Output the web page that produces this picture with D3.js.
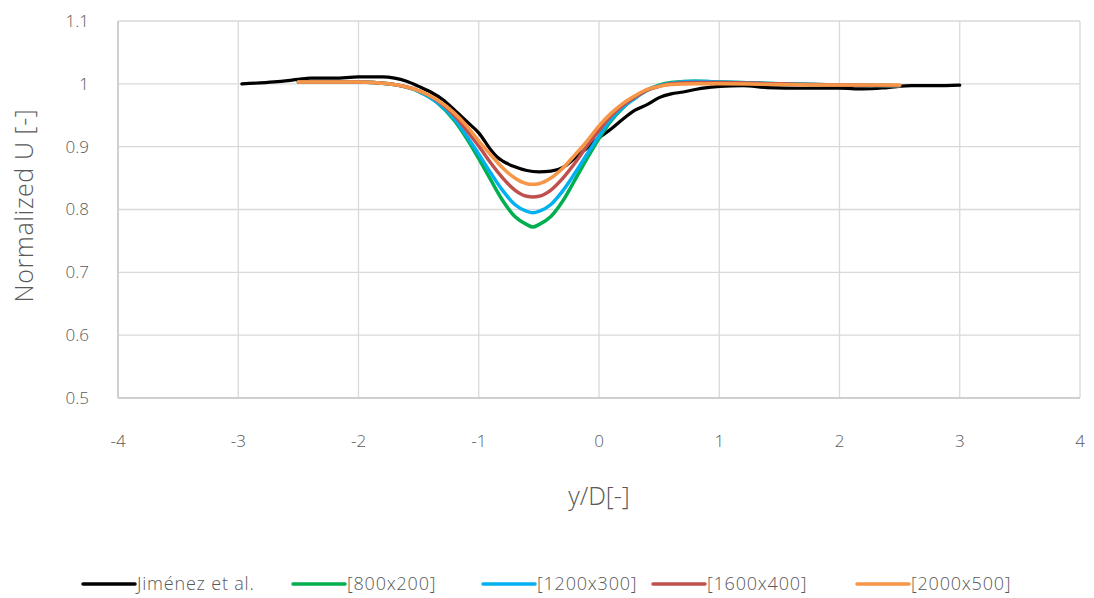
<!DOCTYPE html>
<html>
<head>
<meta charset="utf-8">
<script src="https://cdn.jsdelivr.net/npm/d3@7"></script>
<style>
  body { margin: 0; background: #fff; }
  svg text { font-family: "Open Sans", Roboto, sans-serif; font-weight: 300; fill: #595959; }
</style>
</head>
<body>
<svg id="chart"></svg>
<script>
const width = 1094;
const height = 598;
const margin = { top: 21, right: 14, bottom: 200, left: 118 };

// reference data (Jiménez et al.)
const refX = [-2.97, -2.7, -2.5, -2.4, -2.2, -2.0, -1.8, -1.7, -1.6, -1.5, -1.4, -1.3, -1.2, -1.1, -1.0, -0.9, -0.85, -0.8, -0.7, -0.6, -0.5, -0.4, -0.3, -0.2, -0.1, 0, 0.1, 0.2, 0.3, 0.4, 0.5, 0.6, 0.7, 0.8, 0.9, 1.0, 1.2, 1.4, 1.7, 2.0, 2.2, 2.4, 2.6, 2.8, 3.0];
const refY = [1.000, 1.003, 1.007, 1.009, 1.009, 1.011, 1.011, 1.009, 1.004, 0.996, 0.987, 0.975, 0.958, 0.940, 0.922, 0.895, 0.884, 0.877, 0.868, 0.862, 0.860, 0.861, 0.867, 0.882, 0.898, 0.914, 0.928, 0.944, 0.958, 0.967, 0.978, 0.984, 0.987, 0.991, 0.994, 0.996, 0.997, 0.994, 0.993, 0.993, 0.992, 0.994, 0.997, 0.997, 0.998];

// simulation grids
const simX = [-2.5, -2.0, -1.75, -1.5, -1.35, -1.2, -1.1, -1.0, -0.9, -0.8, -0.7, -0.6, -0.55, -0.5, -0.4, -0.3, -0.2, -0.1, 0, 0.1, 0.2, 0.3, 0.4, 0.5, 0.6, 0.8, 1.0, 1.5, 2.0, 2.5];
const grid800 =  [1.003, 1.003, 1.000, 0.988, 0.971, 0.941, 0.913, 0.881, 0.847, 0.814, 0.789, 0.776, 0.772, 0.776, 0.789, 0.814, 0.847, 0.881, 0.913, 0.941, 0.962, 0.978, 0.990, 0.998, 1.002, 1.004, 1.003, 1.000, 0.998, 0.997];
const grid1200 = [1.003, 1.003, 1.000, 0.988, 0.971, 0.944, 0.917, 0.888, 0.858, 0.830, 0.808, 0.797, 0.795, 0.797, 0.808, 0.830, 0.858, 0.888, 0.917, 0.944, 0.963, 0.977, 0.990, 0.997, 1.001, 1.004, 1.003, 1.000, 0.998, 0.997];
const grid1600 = [1.003, 1.003, 1.000, 0.989, 0.974, 0.949, 0.926, 0.901, 0.874, 0.850, 0.831, 0.821, 0.820, 0.821, 0.831, 0.850, 0.874, 0.901, 0.926, 0.949, 0.966, 0.979, 0.990, 0.996, 1.000, 1.002, 1.002, 1.000, 0.998, 0.997];
const grid2000 = [1.003, 1.003, 1.000, 0.989, 0.975, 0.953, 0.933, 0.909, 0.887, 0.866, 0.850, 0.841, 0.840, 0.841, 0.850, 0.866, 0.887, 0.909, 0.933, 0.953, 0.969, 0.981, 0.991, 0.996, 0.999, 1.000, 1.000, 0.999, 0.998, 0.998];

const seriesNames = ["Jiménez et al.", "[800x200]", "[1200x300]", "[1600x400]", "[2000x500]"];
const seriesColors = ["#000000", "#00b050", "#00b0f0", "#c0504d", "#f79646"];

const xTicks = [-4, -3, -2, -1, 0, 1, 2, 3, 4];
const yTicks = [0.5, 0.6, 0.7, 0.8, 0.9, 1, 1.1];

const series = [
    refX.map((x, i) => [x, refY[i]]),
    simX.map((x, i) => [x, grid800[i]]),
    simX.map((x, i) => [x, grid1200[i]]),
    simX.map((x, i) => [x, grid1600[i]]),
    simX.map((x, i) => [x, grid2000[i]])
];

const svg = d3.select("#chart").attr("width", width).attr("height", height);

const x = d3.scaleLinear().domain([-4, 4]).range([margin.left, 1080]);
const y = d3.scaleLinear().domain([0.5, 1.1]).range([398, margin.top]);

// gridlines
svg.append("g")
    .selectAll("line")
    .data(yTicks)
    .enter().append("line")
    .attr("x1", x(-4)).attr("x2", x(4))
    .attr("y1", d => y(d)).attr("y2", d => y(d))
    .attr("stroke", "#d9d9d9")
    .attr("stroke-width", 1.3);

svg.append("g")
    .selectAll("line")
    .data(xTicks)
    .enter().append("line")
    .attr("x1", d => x(d)).attr("x2", d => x(d))
    .attr("y1", y(1.1)).attr("y2", y(0.5))
    .attr("stroke", "#d9d9d9")
    .attr("stroke-width", 1.3);

// axis lines
svg.append("line")
    .attr("x1", x(-4)).attr("x2", x(-4))
    .attr("y1", y(1.1)).attr("y2", y(0.5))
    .attr("stroke", "#c8c8c8").attr("stroke-width", 1.5);
svg.append("line")
    .attr("x1", x(-4)).attr("x2", x(4))
    .attr("y1", y(0.5)).attr("y2", y(0.5))
    .attr("stroke", "#c8c8c8").attr("stroke-width", 1.5);

// tick labels
svg.append("g")
    .selectAll("text")
    .data(yTicks)
    .enter().append("text")
    .attr("x", 89)
    .attr("y", d => y(d))
    .attr("dy", "0.35em")
    .attr("text-anchor", "end")
    .style("font-size", "17px")
    .text(d => d3.format("")(d));

svg.append("g")
    .selectAll("text")
    .data(xTicks)
    .enter().append("text")
    .attr("x", d => x(d))
    .attr("y", 441)
    .attr("dy", "0.35em")
    .attr("text-anchor", "middle")
    .style("font-size", "17px")
    .text(d => d);

// axis titles
svg.append("text")
    .attr("x", x(0))
    .attr("y", 496)
    .attr("dy", "0.35em")
    .attr("text-anchor", "middle")
    .style("font-size", "25px")
    .text("y/D[-]");

svg.append("text")
    .attr("transform", `translate(24,${y(0.8) - 4}) rotate(-90)`)
    .attr("dy", "0.35em")
    .attr("text-anchor", "middle")
    .style("font-size", "25px")
    .style("letter-spacing", "0.6px")
    .text("Normalized U [-]");

// curves
const line = d3.line()
    .x(d => x(d[0]))
    .y(d => y(d[1]))
    .curve(d3.curveMonotoneX);

svg.append("g")
    .selectAll("path")
    .data(series)
    .enter().append("path")
    .attr("d", line)
    .attr("fill", "none")
    .attr("stroke", (d, i) => seriesColors[i])
    .attr("stroke-width", (d, i) => i === 0 ? 3.2 : 3.5)
    .attr("stroke-linecap", "round")
    .attr("stroke-linejoin", "round");

// legend
const legendX = [83, 293, 483, 653, 857];
const legend = svg.append("g")
    .selectAll("g")
    .data(seriesNames)
    .enter().append("g")
    .attr("transform", (d, i) => `translate(${legendX[i]},584)`);

legend.append("line")
    .attr("x1", 0).attr("x2", 52)
    .attr("y1", 0).attr("y2", 0)
    .attr("stroke", (d, i) => seriesColors[i])
    .attr("stroke-width", 3.5)
    .attr("stroke-linecap", "round");

legend.append("text")
    .attr("x", 54)
    .attr("y", 0)
    .attr("dy", "0.35em")
    .style("font-size", "18px")
    .style("letter-spacing", "0.8px")
    .text(d => d);
</script>
</body>
</html>
